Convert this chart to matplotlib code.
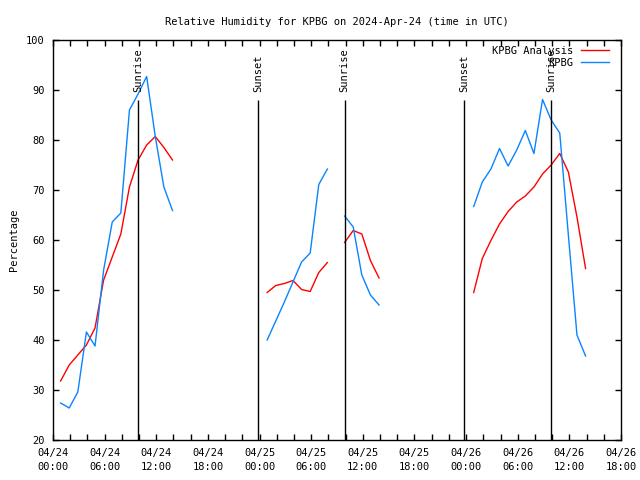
import matplotlib
matplotlib.use("Agg")
import matplotlib.pyplot as plt
import matplotlib.dates as mdates
import numpy as np
import pandas as pd

FONT = "DejaVu Sans Mono"
FS = 7.5

base = pd.Timestamp("2024-04-24 00:00")

# Analysis (red) and observations (blue), hourly at hh:53, in segments
seg_start_hours = [0, 24, 33, 48]
analysis_vals = [
    [31.8, 35.0, 37.0, 39.0, 42.4, 52.0, 56.6, 61.2, 70.6, 76.0, 79.0, 80.7, 78.5, 76.0],
    [49.5, 50.9, 51.3, 51.9, 50.1, 49.7, 53.5, 55.5],
    [59.5, 61.9, 61.2, 55.9, 52.4],
    [49.5, 56.3, 59.9, 63.2, 65.7, 67.6, 68.8, 70.6, 73.2, 75.0, 77.3, 73.6, 64.6, 54.3],
]
obs_vals = [
    [27.4, 26.4, 29.6, 41.6, 38.8, 54.0, 63.6, 65.4, 86.0, 89.2, 92.7, 80.7, 70.6, 65.9],
    [40.0, 43.8, 47.6, 51.6, 55.6, 57.4, 71.1, 74.2],
    [64.8, 62.6, 53.0, 49.0, 47.0],
    [66.7, 71.6, 74.2, 78.3, 74.8, 78.0, 81.9, 77.3, 88.1, 84.0, 81.4, 61.0, 41.0, 36.8],
]

# Sun events (hours after 2024-04-24 00:00 UTC)
sun_hours = [9.9, 23.8, 33.9, 47.8, 57.85]
sun_labels = ["Sunrise", "Sunset", "Sunrise", "Sunset", "Sunrise"]

tick_hours = list(range(0, 67, 6))
y_ticks = [20, 30, 40, 50, 60, 70, 80, 90, 100]

fig = plt.figure(figsize=(6.4, 4.8), dpi=100)
ax = fig.add_axes([53 / 640, 40 / 480, 568 / 640, 400 / 480])

def t(h):
    return base + pd.Timedelta(hours=h)

red = "#ff0000"
blue = "#0a84ff"
for i, (h0, av, ov) in enumerate(zip(seg_start_hours, analysis_vals, obs_vals)):
    times = [t(h0 + k + 53 / 60) for k in range(len(av))]
    ax.plot(times, av, color=red, lw=1, label="KPBG Analysis" if i == 0 else None)
    times_o = [t(h0 + k + 53 / 60) for k in range(len(ov))]
    ax.plot(times_o, ov, color=blue, lw=1, label="KPBG" if i == 0 else None)

for h, lab in zip(sun_hours, sun_labels):
    ax.vlines(t(h), 20, 88, color="black", lw=1)
    ax.text(t(h), 89.6, lab, rotation=90, ha="center", va="bottom",
            fontfamily=FONT, fontsize=FS)

ax.set_xlim(t(0), t(66))
ax.set_ylim(20, 100)
ax.set_xticks([t(h) for h in tick_hours])
ax.set_xticklabels([t(h).strftime("%m/%d\n%H:%M") for h in tick_hours],
                   fontfamily=FONT, fontsize=FS, linespacing=1.5)
ax.set_xticks([t(h) for h in range(0, 67, 2)], minor=True)
ax.set_yticks(y_ticks)
ax.set_yticklabels([str(v) for v in y_ticks], fontfamily=FONT, fontsize=FS)
ax.tick_params(axis="both", which="both", direction="in", length=4, width=1,
               top=True, right=True, pad=6)
ax.tick_params(axis="x", which="minor", labelbottom=False)
for s in ax.spines.values():
    s.set_linewidth(1)

ax.set_title("Relative Humidity for KPBG on 2024-Apr-24 (time in UTC)",
             fontfamily=FONT, fontsize=FS, pad=11)
ax.set_ylabel("Percentage", fontfamily=FONT, fontsize=FS, labelpad=5)

leg = ax.legend(loc="upper right", bbox_to_anchor=(0.979, 0.985), borderaxespad=0,
                borderpad=0, markerfirst=False, frameon=False, handlelength=2.7,
                handletextpad=0.7, labelspacing=0.15,
                prop={"family": FONT, "size": FS})

fig.savefig("out.png", dpi=100)
